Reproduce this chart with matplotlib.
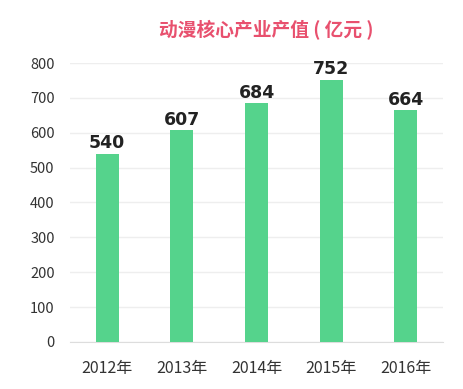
import matplotlib
matplotlib.use("Agg")
import matplotlib.pyplot as plt

plt.rcParams['font.family'] = ['Noto Sans CJK SC', 'DejaVu Sans']

years = ["2012年", "2013年", "2014年", "2015年", "2016年"]
values = [540, 607, 684, 752, 664]
yticks = [0, 100, 200, 300, 400, 500, 600, 700, 800]

fig = plt.figure(figsize=(4.63, 3.89), dpi=100)
ax = fig.add_axes([0.151, 0.121, 0.806, 0.717])
x = range(len(years))
bars = ax.bar(x, values, width=0.31, color="#55d38c", zorder=3)
for xi, v in zip(x, values):
    ax.text(xi, v + 5, str(v), ha="center", va="bottom", fontsize=12.5,
            fontweight="bold", color="#222222", family=['DejaVu Sans'])
ax.set_xlim(-0.5, len(years) - 0.5)
ax.set_ylim(0, 800)
ax.set_yticks(yticks)
ax.set_yticklabels([str(t) for t in yticks], fontsize=10.5, color="#333333")
ax.set_xticks(list(x))
ax.set_xticklabels(years, fontsize=11.5, color="#333333")
ax.tick_params(axis="both", length=0)
ax.tick_params(axis="y", pad=11)
ax.tick_params(axis="x", pad=13)
ax.grid(axis="y", color="#eeeeee", linewidth=1, zorder=0)
for s in ["top", "right", "left"]:
    ax.spines[s].set_visible(False)
ax.spines["bottom"].set_color("#dddddd")
fig.text(0.575, 0.922, "动漫核心产业产值 ( 亿元 )", ha="center", va="center",
         fontsize=13.5, fontweight="bold", color="#e8506e")
fig.savefig("out.png", dpi=100)
